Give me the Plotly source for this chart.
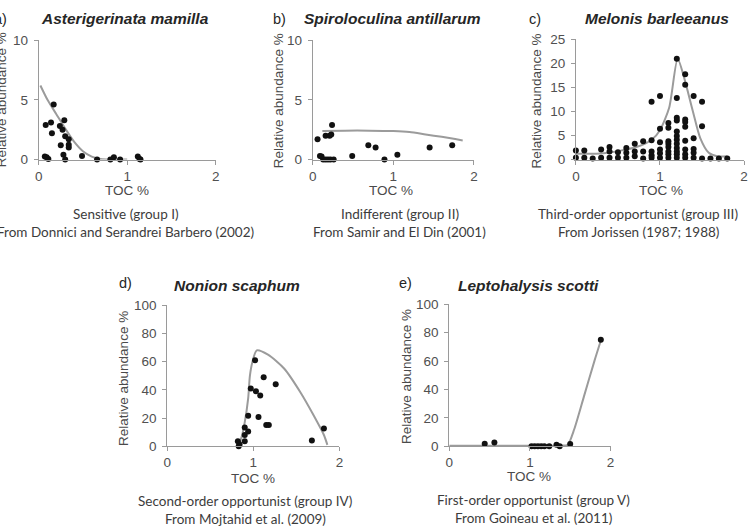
import plotly.graph_objects as go

W, H = 756, 532

# ---------------- DATA ----------------
# a) Asterigerinata mamilla
a_toc = [0.08, 0.14, 0.17, 0.15, 0.07, 0.11, 0.09, 0.29, 0.27, 0.24, 0.30, 0.34, 0.34, 0.34,
         0.25, 0.28, 0.30, 0.49, 0.66, 0.81, 0.85, 0.92, 1.12, 1.14, 1.15]
a_ra = [2.9, 3.1, 4.6, 2.2, 0.25, 0.05, 0.2, 3.3, 2.5, 2.8, 1.95, 1.7, 1.25, 1.0,
        1.2, 0.4, 0.0, 0.3, 0.0, 0.0, 0.2, 0.0, 0.25, 0.05, 0.0]
a_curve_toc = [0.02, 0.1, 0.2, 0.3, 0.4, 0.5, 0.6, 0.7, 0.8, 0.9, 1.0]
a_curve_ra = [6.2, 5.0, 3.8, 2.6, 1.5, 0.7, 0.25, 0.05, 0.0, 0.0, 0.0]

# b) Spiroloculina antillarum
b_toc = [0.06, 0.09, 0.11, 0.13, 0.16, 0.19, 0.21, 0.23, 0.24, 0.22, 0.26, 0.16,
         0.49, 0.69, 0.78, 0.89, 1.05, 1.45, 1.73]
b_ra = [1.7, 0.3, 0.25, 0.0, 2.0, 0.0, 2.0, 2.1, 2.9, 0.0, 0.0, 0.0,
        0.3, 1.2, 1.0, 0.0, 0.4, 1.0, 1.2]
b_curve_toc = [0.12, 0.4, 0.7, 1.0, 1.2, 1.4, 1.6, 1.86]
b_curve_ra = [2.4, 2.42, 2.42, 2.38, 2.3, 2.1, 1.9, 1.6]

# c) Melonis barleeanus
c_toc = [0.0, 0.0, 0.1, 0.1, 0.2, 0.3, 0.3, 0.4, 0.4, 0.4, 0.5, 0.5, 0.6, 0.6, 0.6,
         0.7, 0.7, 0.7, 0.8, 0.8, 0.8, 0.9, 0.9, 0.9, 0.9, 0.9,
         1.0, 1.0, 1.0, 1.0, 1.0, 1.0,
         1.1, 1.1, 1.1, 1.1, 1.1, 1.1, 1.1, 1.1,
         1.2, 1.2, 1.2, 1.2, 1.2, 1.2, 1.2, 1.2, 1.2, 1.2, 1.2, 1.2,
         1.3, 1.3, 1.3, 1.3, 1.3, 1.3, 1.3, 1.3, 1.3,
         1.4, 1.4, 1.4, 1.4, 1.4, 1.5, 1.5, 1.5, 1.6, 1.7, 1.8]
c_ra = [1.9, 0.4, 1.9, 0.4, 0.2, 2.1, 0.4, 2.6, 1.7, 0.4, 1.5, 0.4, 2.4, 1.4, 0.4,
        3.3, 1.7, 0.7, 3.8, 1.7, 0.2, 12.0, 4.0, 1.7, 0.9, 0.4,
        13.2, 6.4, 3.6, 2.1, 1.3, 0.4,
        7.6, 6.6, 3.8, 3.3, 2.6, 1.7, 1.1, 0.4,
        20.9, 12.8, 8.7, 8.1, 5.8, 4.9, 4.1, 3.3, 2.4, 1.7, 1.1, 0.4,
        17.7, 15.5, 8.3, 7.8, 6.8, 3.9, 2.1, 1.1, 0.4,
        13.2, 4.4, 2.2, 1.4, 0.4, 12.0, 6.9, 0.2, 0.2, 0.2, 0.2]
c_curve_toc = [0.0, 0.33, 0.72, 0.9, 1.0, 1.11, 1.21, 1.29, 1.39, 1.48, 1.58, 1.68, 1.8]
c_curve_ra = [1.2, 1.3, 2.6, 4.1, 6.1, 10.8, 20.9, 16.8, 10.1, 4.4, 1.4, 0.7, 0.7]

# d) Nonion scaphum
d_toc = [1.02, 1.12, 1.26, 0.97, 1.03, 1.08, 0.94, 1.06, 1.15, 1.18, 0.90, 0.94,
         0.90, 0.90, 0.82, 0.84, 0.83, 1.68, 1.82]
d_ra = [61, 49, 44, 41, 39, 36, 21.6, 20.7, 15, 15, 13.3, 10.5,
        8, 3.5, 3.5, 1.2, 0, 4, 12.6]
d_curve_toc = [0.82, 0.86, 0.90, 0.94, 0.96, 0.99, 1.04, 1.17, 1.36, 1.55, 1.70, 1.82, 1.86]
d_curve_ra = [0, 5.8, 17, 34, 50, 60, 68, 65, 55, 38, 22, 8, 1]

# e) Leptohalysis scotti
e_toc = [0.44, 0.56, 1.02, 1.06, 1.10, 1.14, 1.18, 1.24, 1.33, 1.37, 1.50, 1.88]
e_ra = [1.8, 2.7, 0.0, 0.0, 0.0, 0.0, 0.0, 0.0, 1.1, 0.0, 1.6, 75]
e_curve_toc = [0.0, 0.5, 1.0, 1.4, 1.47, 1.55, 1.67, 1.8, 1.88]
e_curve_ra = [0.3, 0.3, 0.4, 0.5, 1.1, 12, 35, 60, 74.5]

titles = ["Asterigerinata mamilla", "Spiroloculina antillarum", "Melonis barleeanus",
          "Nonion scaphum", "Leptohalysis scotti"]
letters = ["a)", "b)", "c)", "d)", "e)"]
groups = ["Sensitive (group I)", "Indifferent (group II)", "Third-order opportunist (group III)",
          "Second-order opportunist (group IV)", "First-order opportunist (group V)"]
sources = ["From Donnici and Serandrei Barbero (2002)", "From Samir and El Din (2001)",
           "From Jorissen (1987; 1988)", "From Mojtahid et al. (2009)", "From Goineau et al. (2011)"]
y_max = [10, 10, 25, 100, 100]
y_dtick = [5, 5, 5, 20, 20]
x_ticks = [0, 1, 2]

# ---------------- LAYOUT (pixel geometry) ----------------
boxes = [(35, 214, 34, 157), (312, 475, 34, 157), (578, 748, 33, 157),
         (165, 339, 307, 452), (450, 613, 306, 452)]
title_pos = [(122, 12), (393, 12), (660, 12), (235, 287), (530, 287)]
letter_pos = [(-4, 12), (278, 12), (537, 12), (123, 284), (406, 284)]
ytitle_pos = [(-3, 96), (277, 97), (538, 97), (121, 382), (407, 380)]
toc_pos = [(124, 189), (391, 189), (664, 189), (252, 485), (531, 483)]
grp_pos = [(123, 213), (400, 213), (641, 213), (244, 508), (535, 507)]
src_pos = [(123, 232), (400, 232), (641, 232), (244, 527), (535, 526)]

def px(x):
    return x / W

def py(y):
    return 1 - y / H

points = [(a_toc, a_ra), (b_toc, b_ra), (c_toc, c_ra), (d_toc, d_ra), (e_toc, e_ra)]
curves = [(a_curve_toc, a_curve_ra), (b_curve_toc, b_curve_ra), (c_curve_toc, c_curve_ra),
          (d_curve_toc, d_curve_ra), (e_curve_toc, e_curve_ra)]

fig = go.Figure()
AXCOL = "#9a9a9a"
TICKFONT = dict(family="Liberation Sans, Arial", size=13.5, color="#505050")
layout = dict(width=W, height=H, margin=dict(l=0, r=0, t=0, b=0),
              paper_bgcolor="white", plot_bgcolor="white", showlegend=False)
annotations = []

for i in range(5):
    sfx = "" if i == 0 else str(i + 1)
    xa, ya = "x" + sfx, "y" + sfx
    cx, cy = curves[i]
    fig.add_trace(go.Scatter(x=cx, y=cy, xaxis=xa, yaxis=ya, mode="lines",
                             line=dict(color="#9b9b9b", width=2, shape="spline", smoothing=0.7),
                             cliponaxis=False, hoverinfo="skip"))
    tx, ty = points[i]
    fig.add_trace(go.Scatter(x=tx, y=ty, xaxis=xa, yaxis=ya, mode="markers",
                             marker=dict(color="#111111", size=6), cliponaxis=False))
    x0, x1, yt, yb = boxes[i]
    layout["xaxis" + sfx] = dict(domain=[px(x0), px(x1)], range=[0, 2], anchor=ya,
                                 tickvals=x_ticks, showgrid=False, zeroline=False,
                                 showline=True, linecolor=AXCOL, linewidth=1,
                                 ticks="outside", ticklen=4, tickcolor=AXCOL,
                                 tickfont=TICKFONT, fixedrange=True)
    layout["yaxis" + sfx] = dict(domain=[py(yb), py(yt)], range=[0, y_max[i]], anchor=xa,
                                 dtick=y_dtick[i], tick0=0, showgrid=False, zeroline=False,
                                 showline=True, linecolor=AXCOL, linewidth=1,
                                 ticks="outside", ticklen=4, tickcolor=AXCOL,
                                 ticklabelstandoff=3,
                                 tickfont=TICKFONT, fixedrange=True)

    def ann(text, pos, font, angle=0):
        annotations.append(dict(text=text, x=px(pos[0]), y=py(pos[1]), xref="paper", yref="paper",
                                xanchor="center", yanchor="middle", showarrow=False,
                                textangle=angle, font=font))

    ann("<b><i>" + titles[i] + "</i></b>", title_pos[i],
        dict(family="Liberation Sans, Arial", size=15.5, color="#262626"))
    ann(letters[i], letter_pos[i], dict(family="Liberation Sans, Arial", size=14.5, color="#262626"))
    ann("Relative abundance %", ytitle_pos[i],
        dict(family="Liberation Sans, Arial", size=13.5, color="#4a4a4a"), angle=-90)
    ann("TOC %", toc_pos[i], dict(family="Liberation Sans, Arial", size=13.5, color="#4a4a4a"))
    ann(groups[i], grp_pos[i], dict(family="Lato", size=13.5, color="#3c3c3c"))
    ann(sources[i], src_pos[i], dict(family="Lato", size=13.5, color="#3c3c3c"))

layout["annotations"] = annotations
fig.update_layout(**layout)
fig.write_html("out.html")
